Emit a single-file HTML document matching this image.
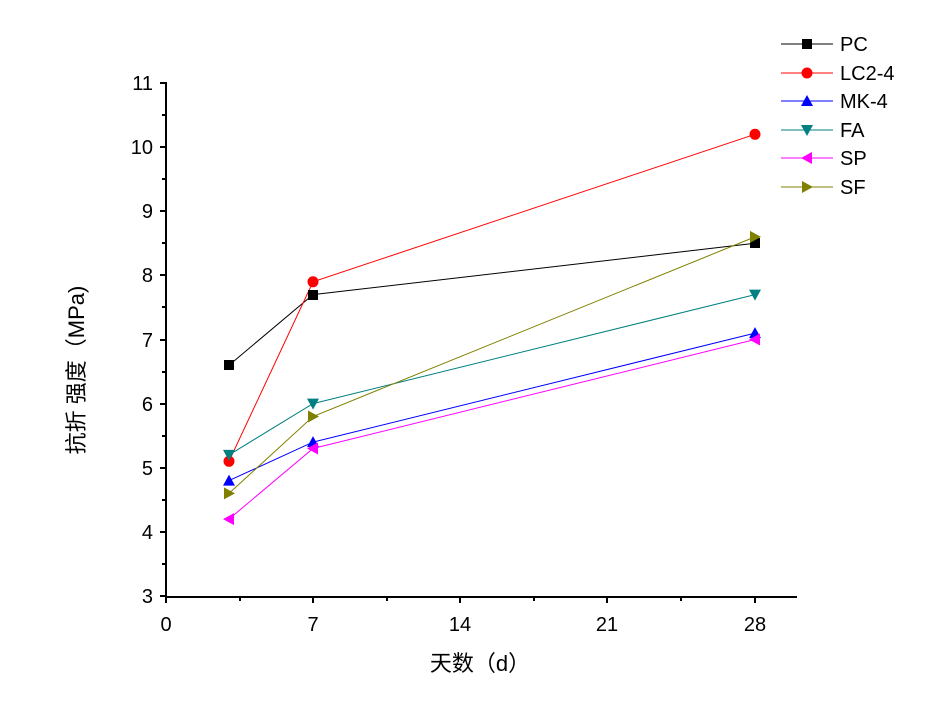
<!DOCTYPE html>
<html><head><meta charset="utf-8"><style>
html,body{margin:0;padding:0;background:#fff;}
svg text{font-family:"Liberation Sans","Noto Sans CJK SC",sans-serif;fill:#000;}
</style></head><body>
<svg width="926" height="716" viewBox="0 0 926 716" xmlns="http://www.w3.org/2000/svg">
<g stroke="#000" stroke-width="2" fill="none">
<line x1="166" y1="82" x2="166" y2="597"/>
<line x1="165" y1="597" x2="797" y2="597"/>
<path d="M160 596H166M160 532H166M160 468H166M160 404H166M160 340H166M160 275H166M160 211H166M160 147H166M160 83H166"/>
<path d="M162 564H166M162 500H166M162 436H166M162 372H166M162 307H166M162 243H166M162 179H166M162 115H166"/>
<path d="M166 597V603M313 597V603M460 597V603M607 597V603M755 597V603"/>
<path d="M240 597V601M387 597V601M534 597V601M681 597V601"/>
</g>
<g font-size="20" text-anchor="end">
<text x="153" y="603">3</text><text x="153" y="539">4</text><text x="153" y="475">5</text>
<text x="153" y="411">6</text><text x="153" y="347">7</text><text x="153" y="282">8</text>
<text x="153" y="218">9</text><text x="153" y="154">10</text><text x="153" y="90">11</text>
</g>
<g font-size="20" text-anchor="middle">
<text x="166" y="631">0</text><text x="313" y="631">7</text><text x="460" y="631">14</text>
<text x="607" y="631">21</text><text x="755" y="631">28</text>
</g>
<text x="480" y="671" font-size="22" text-anchor="middle">天数（d）</text>
<text font-size="22" text-anchor="middle" transform="translate(84,370) rotate(-90)">抗折 强度（MPa)</text>

<polyline points="229,365.2 313,294.6 755,243.3" stroke="#000" fill="none" stroke-width="1"/>
<polyline points="229,461.3 313,281.8 755,134.3" stroke="#f00" fill="none" stroke-width="1"/>
<polyline points="229,480.6 313,442.1 755,333.1" stroke="#00f" fill="none" stroke-width="1"/>
<polyline points="229,454.9 313,403.6 755,294.6" stroke="#008080" fill="none" stroke-width="1"/>
<polyline points="229,519.1 313,448.5 755,339.5" stroke="#f0f" fill="none" stroke-width="1"/>
<polyline points="229,493.4 313,416.5 755,236.9" stroke="#808000" fill="none" stroke-width="1"/>

<g fill="#000"><rect x="224" y="360" width="10" height="10"/><rect x="308" y="290" width="10" height="10"/><rect x="750" y="238" width="10" height="10"/></g>
<g fill="#f00"><circle cx="229" cy="461.3" r="5.5"/><circle cx="313" cy="281.8" r="5.5"/><circle cx="755" cy="134.3" r="5.5"/></g>
<g fill="#00f"><path d="M229 474.6l6 11h-12z"/><path d="M313 436.1l6 11h-12z"/><path d="M755 327.1l6 11h-12z"/></g>
<g fill="#008080"><path d="M229 460.9l6 -11h-12z"/><path d="M313 409.6l6 -11h-12z"/><path d="M755 300.6l6 -11h-12z"/></g>
<g fill="#f0f"><path d="M223 519.1l11 -6v12z"/><path d="M307 448.5l11 -6v12z"/><path d="M749 339.5l11 -6v12z"/></g>
<g fill="#808000"><path d="M235 493.4l-11 -6v12z"/><path d="M319 416.5l-11 -6v12z"/><path d="M761 236.9l-11 -6v12z"/></g>

<g stroke-width="1" fill="none">
<line x1="781" y1="44" x2="833" y2="44" stroke="#000"/>
<line x1="781" y1="73" x2="833" y2="73" stroke="#f00"/>
<line x1="781" y1="101" x2="833" y2="101" stroke="#00f"/>
<line x1="781" y1="130" x2="833" y2="130" stroke="#008080"/>
<line x1="781" y1="158" x2="833" y2="158" stroke="#f0f"/>
<line x1="781" y1="187" x2="833" y2="187" stroke="#808000"/>
</g>
<rect x="802" y="39" width="10" height="10" fill="#000"/>
<circle cx="807" cy="73" r="5.5" fill="#f00"/>
<path d="M807 95l6 11h-12z" fill="#00f"/>
<path d="M807 136l6 -11h-12z" fill="#008080"/>
<path d="M801 158l11 -6v12z" fill="#f0f"/>
<path d="M813 187l-11 -6v12z" fill="#808000"/>
<g font-size="20">
<text x="840" y="51">PC</text><text x="840" y="80">LC2-4</text><text x="840" y="108">MK-4</text>
<text x="840" y="137">FA</text><text x="840" y="165">SP</text><text x="840" y="194">SF</text>
</g>
</svg>
</body></html>
